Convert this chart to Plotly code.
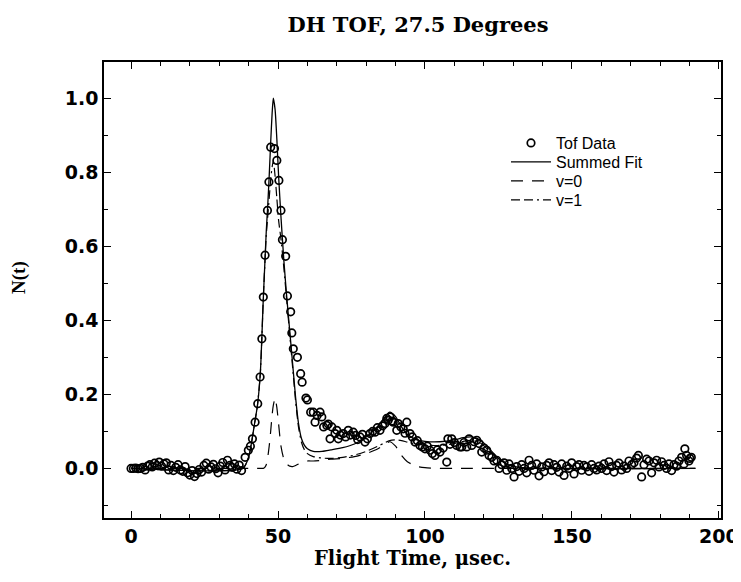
import plotly.graph_objects as go

# ---- measured TOF data (flight time in usec, normalized N(t)) ----
tof_t = [
    0.0, 0.8, 1.6, 2.4, 3.2, 4.0, 4.8, 5.6, 6.4, 7.2, 8.0, 8.8, 9.6, 10.4, 11.2, 12.0,
    12.8, 13.6, 14.4, 15.2, 16.0, 16.8, 17.6, 18.4, 19.2, 20.0, 20.8, 21.6, 22.4, 23.2,
    24.0, 24.8, 25.6, 26.4, 27.2, 28.0, 28.8, 29.6, 30.4, 31.2, 32.0, 32.8, 33.6, 34.4,
    35.2, 36.0, 36.8, 37.6,
    38.8, 39.9, 40.6, 41.3, 42.2, 43.1, 43.9, 44.5, 45.0, 45.6, 46.4, 46.9, 47.5, 48.8,
    49.6, 50.3, 51.0, 51.5, 52.6, 53.2, 54.3, 54.7, 55.2, 56.6, 57.7, 58.2, 59.5, 60.0,
    61.1, 62.0, 62.6, 63.3, 64.3, 64.9, 65.5, 66.6, 67.1, 67.7, 68.3, 69.4, 70.0, 70.5,
    71.2, 72.2, 73.0, 73.9, 74.6, 75.6, 76.4, 77.1, 77.9, 78.7, 79.6, 80.4, 81.3, 82.2,
    83.0, 83.8, 84.7, 85.6, 86.4, 87.0, 87.5, 88.1, 88.8, 89.2, 90.4, 90.9, 91.8, 92.6,
    93.2, 93.8, 94.9, 95.7, 96.6, 97.4, 98.3, 99.1, 100.0, 100.8, 101.7, 102.5, 103.4,
    104.2, 105.1, 106.2, 107.4, 107.8, 108.5, 109.1, 110.0, 110.8, 111.9, 112.5, 113.3,
    114.2, 115.0, 115.9, 116.7, 117.6, 118.4, 119.3, 120.1, 121.0, 121.8, 122.7, 123.5,
    124.4, 125.2, 126.1, 126.9, 127.8, 128.6, 129.5, 130.3, 131.2, 132.0, 132.9, 133.7,
    134.6, 135.4, 136.3, 137.1, 138.0, 138.8, 139.7, 140.5, 141.4, 142.2, 143.1, 143.9,
    144.8, 145.6, 146.5, 147.3, 148.2, 149.0, 149.9, 150.7, 151.6, 152.4, 153.3, 154.1,
    155.0, 155.8, 156.7, 157.5, 158.4, 159.2, 160.1, 160.9, 161.8, 162.6, 163.5, 164.3,
    165.2, 166.0, 166.9, 167.7, 168.6, 169.4, 170.3, 171.1, 172.0, 172.6, 173.7, 174.5,
    175.4, 176.2, 177.1, 177.9, 178.8, 179.6, 180.5, 181.3, 182.2, 183.0, 183.9, 184.7,
    185.6, 186.4, 187.3, 188.1, 188.4, 189.0, 189.8, 190.1, 190.6,
]
tof_n = [
    0.000, 0.000, 0.001, -0.001, 0.000, 0.003, -0.004, 0.006, 0.010, 0.004, 0.014, 0.008,
    0.017, 0.006, 0.012, 0.015, -0.004, 0.008, -0.006, 0.003, 0.010, -0.004, -0.008,
    0.005, -0.012, -0.018, -0.006, -0.022, -0.014, -0.003, -0.010, 0.008, 0.014, -0.002,
    0.004, 0.011, -0.001, -0.012, 0.006, 0.016, -0.004, 0.022, 0.008, 0.003, 0.012,
    -0.002, 0.009, -0.006,
    0.030, 0.049, 0.060, 0.080, 0.125, 0.175, 0.247, 0.350, 0.463, 0.576, 0.697, 0.774,
    0.868, 0.864, 0.832, 0.778, 0.697, 0.618, 0.573, 0.466, 0.423, 0.366, 0.323, 0.300,
    0.256, 0.233, 0.190, 0.185, 0.152, 0.152, 0.125, 0.143, 0.152, 0.139, 0.112, 0.116,
    0.120, 0.080, 0.112, 0.094, 0.103, 0.080, 0.090, 0.094, 0.085, 0.103, 0.090, 0.098,
    0.089, 0.078, 0.085, 0.092, 0.071, 0.080, 0.094, 0.100, 0.098, 0.110, 0.103, 0.115,
    0.121, 0.135, 0.130, 0.139, 0.128, 0.125, 0.103, 0.121, 0.112, 0.107, 0.095, 0.125,
    0.094, 0.085, 0.071, 0.075, 0.062, 0.058, 0.053, 0.060, 0.049, 0.040, 0.035, 0.050,
    0.044, 0.055, 0.017, 0.080, 0.065, 0.080, 0.070, 0.062, 0.058, 0.058, 0.070, 0.058,
    0.080, 0.062, 0.072, 0.076, 0.067, 0.044, 0.055, 0.049, 0.035, 0.030, 0.020, 0.022,
    0.000, 0.010, 0.015, -0.005, 0.012, 0.000, -0.023, 0.005, -0.008, 0.010, 0.000,
    -0.012, 0.022, 0.008, -0.005, 0.012, -0.020, 0.004, -0.009, 0.008, 0.015, -0.006,
    0.010, 0.003, -0.010, 0.012, -0.019, 0.006, 0.000, 0.015, -0.015, 0.005, 0.010,
    -0.005, 0.008, 0.004, -0.008, 0.010, 0.000, -0.004, 0.006, 0.000, 0.012, -0.006,
    0.018, 0.005, -0.010, 0.008, 0.014, -0.004, 0.006, 0.000, 0.020, 0.010, 0.015, 0.028,
    0.035, -0.023, 0.010, 0.025, 0.020, -0.012, 0.015, 0.022, 0.004, 0.018, 0.008, 0.000,
    0.012, -0.006, 0.010, 0.006, 0.020, 0.030, 0.012, 0.053, 0.035, 0.020, 0.027, 0.030,
]

# ---- fit curves on a common time grid ----
fit_t = [0, 38, 40, 41, 42, 43, 44, 45, 45.5, 46, 46.5, 47, 47.5, 48, 48.4, 49, 49.6, 50.2,
         51, 52, 53, 54, 55, 56, 57, 58, 59, 60, 62, 65, 68, 72, 76, 80, 84, 86, 88, 90,
         92, 94, 97, 100, 105, 110, 113, 116, 119, 122, 125, 128, 132, 140, 192]
fit_sum = [0, 0, 0.03, 0.07, 0.12, 0.17, 0.26, 0.46, 0.55, 0.64, 0.71, 0.79, 0.88, 0.96,
           1.0, 0.97, 0.89, 0.79, 0.68, 0.56, 0.46, 0.37, 0.28, 0.19, 0.12, 0.08, 0.062,
           0.053, 0.046, 0.046, 0.05, 0.056, 0.066, 0.085, 0.115, 0.135, 0.152, 0.14,
           0.112, 0.092, 0.078, 0.073, 0.072, 0.077, 0.083, 0.085, 0.076, 0.052, 0.027,
           0.011, 0.003, 0, 0]
fit_v1 = [0, 0, 0.03, 0.07, 0.12, 0.17, 0.26, 0.46, 0.55, 0.63, 0.68, 0.73, 0.78, 0.815,
          0.83, 0.79, 0.73, 0.67, 0.62, 0.54, 0.45, 0.36, 0.27, 0.18, 0.11, 0.07, 0.05,
          0.04, 0.032, 0.028, 0.027, 0.03, 0.036, 0.046, 0.06, 0.068, 0.075, 0.077, 0.075,
          0.071, 0.066, 0.063, 0.062, 0.067, 0.073, 0.076, 0.068, 0.046, 0.024, 0.01,
          0.003, 0, 0]
fit_v0 = [0, 0, 0, 0, 0, 0, 0, 0, 0.003, 0.01, 0.03, 0.06, 0.10, 0.145, 0.17, 0.19, 0.165,
          0.12, 0.06, 0.025, 0.012, 0.006, 0.005, 0.008, 0.012, 0.016, 0.018, 0.02, 0.02,
          0.022, 0.025, 0.027, 0.032, 0.04, 0.053, 0.063, 0.072, 0.06, 0.035, 0.018,
          0.006, 0.002, 0, 0, 0, 0, 0, 0, 0, 0, 0, 0, 0]

x_ticks = [0, 50, 100, 150, 200]
y_ticks = [0.0, 0.2, 0.4, 0.6, 0.8, 1.0]

# ---- geometry: page body has an 8px margin, so the figure is offset on screen ----
OFF = 8
W, H = 741 - OFF, 582 - OFF
ML, MR, MT, MB = 104 - OFF, 20, 62 - OFF, 64
PW, PH = W - ML - MR, H - MT - MB


def py(screen_y):
    """screen pixel row -> paper y"""
    return (H - MB - (screen_y - OFF)) / PH


def px(screen_x):
    """screen pixel column -> paper x"""
    return (screen_x - OFF - ML) / PW


fig = go.Figure()
fig.add_trace(go.Scatter(
    x=tof_t, y=tof_n, mode="markers", name="Tof Data", legend="legend",
    marker=dict(symbol="circle-open", size=7.5, color="black", line=dict(width=1.7, color="black")),
))
fig.add_trace(go.Scatter(
    x=fit_t, y=fit_sum, mode="lines", name="Summed Fit", legend="legend2",
    line=dict(color="black", width=1.3, shape="spline", smoothing=0.6),
))
fig.add_trace(go.Scatter(
    x=fit_t, y=fit_v0, mode="lines", name="v=0", legend="legend3",
    line=dict(color="black", width=1.2, dash="12px,9px", shape="spline", smoothing=0.6),
))
fig.add_trace(go.Scatter(
    x=fit_t, y=fit_v1, mode="lines", name="v=1", legend="legend4",
    line=dict(color="black", width=1.2, dash="9px,4px,9px,4px,2px,4px", shape="spline", smoothing=0.6),
))

axis_common = dict(
    showline=True, linecolor="black", linewidth=1.5, mirror="ticks",
    ticks="inside", ticklen=7, tickwidth=1.3, tickcolor="black",
    showgrid=False, zeroline=False, automargin=False,
    tickfont=dict(family="DejaVu Sans", size=19, color="black", weight="bold"),
)

fig.update_xaxes(
    range=[-9.2, 200.7], tickvals=x_ticks,
    title=dict(text="Flight Time, μsec.", standoff=2,
               font=dict(family="DejaVu Serif", size=19.5, color="black", weight="bold")),
    minor=dict(dtick=10, ticks="inside", ticklen=4, tickcolor="black", tickwidth=1),
    **axis_common,
)
fig.update_yaxes(
    range=[-0.134, 1.098], tickvals=y_ticks, tickformat=".1f",
    minor=dict(dtick=0.1, ticks="inside", ticklen=4, tickcolor="black", tickwidth=1),
    **axis_common,
)

legend_font = dict(family="Liberation Sans", size=16, color="black")
legend_common = dict(x=px(506), xanchor="left", yanchor="middle", font=legend_font,
                     bgcolor="rgba(0,0,0,0)", itemwidth=40, borderwidth=0)

fig.update_layout(
    width=W, height=H,
    margin=dict(l=ML, r=MR, t=MT, b=MB),
    paper_bgcolor="white", plot_bgcolor="white",
    title=dict(text="DH TOF, 27.5 Degrees", x=(418 - OFF) / W, xanchor="center",
               y=1 - (25 - OFF) / H, yanchor="middle",
               font=dict(family="DejaVu Serif", size=21, color="black", weight="bold")),
    legend=dict(y=py(143), **legend_common),
    legend2=dict(y=py(162), **legend_common),
    legend3=dict(y=py(181), **legend_common),
    legend4=dict(y=py(200), **legend_common),
    showlegend=True,
    annotations=[dict(text="N(t)", textangle=-90, xref="paper", yref="paper",
                      x=px(19), y=py(278), xanchor="center", yanchor="middle", showarrow=False,
                      font=dict(family="Liberation Serif", size=19, color="black", weight="bold"))],
)

fig.write_html("out.html")
